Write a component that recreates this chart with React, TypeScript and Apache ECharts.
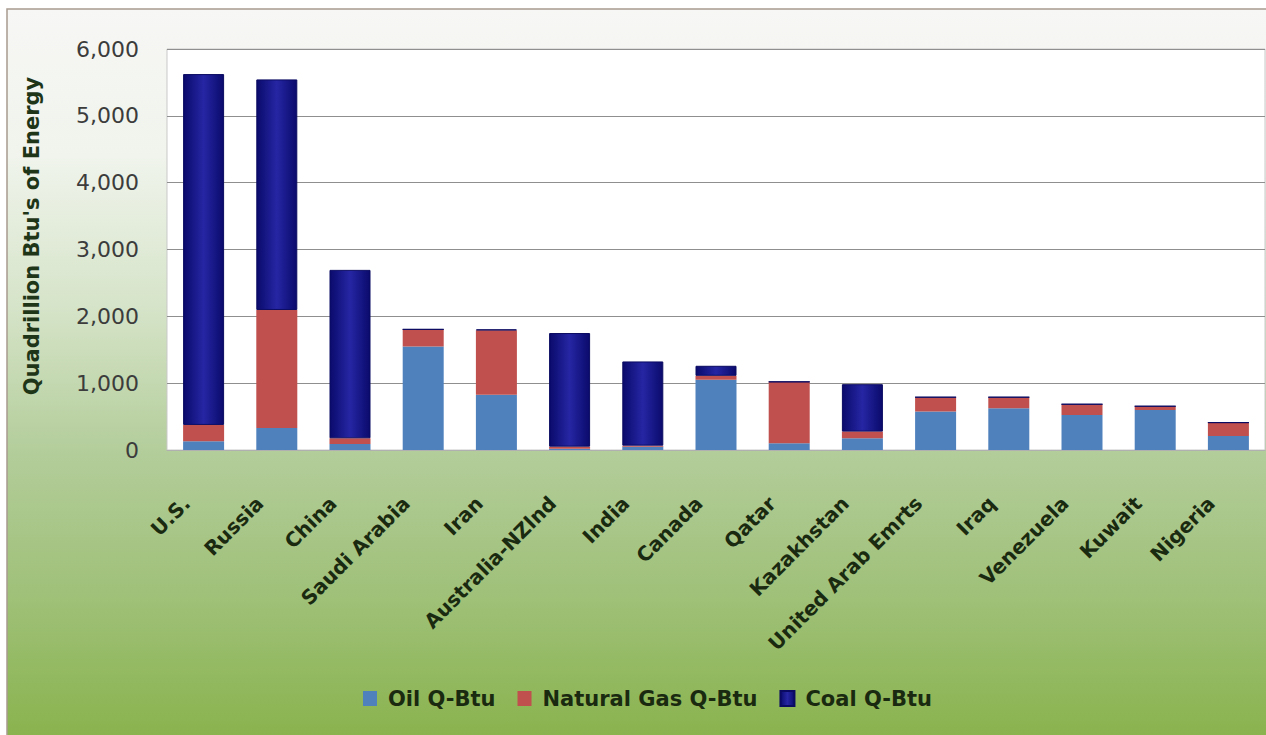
import React, { useEffect, useRef } from "react";
import * as echarts from "echarts";

// Energy reserves by country, stacked by fuel (quadrillion Btu)
const countries = [
  "U.S.",
  "Russia",
  "China",
  "Saudi Arabia",
  "Iran",
  "Australia-NZlnd",
  "India",
  "Canada",
  "Qatar",
  "Kazakhstan",
  "United Arab Emrts",
  "Iraq",
  "Venezuela",
  "Kuwait",
  "Nigeria",
];
const oilQBtu = [130, 330, 90, 1550, 825, 20, 50, 1050, 100, 175, 575, 625, 525, 600, 210];
const gasQBtu = [245, 1765, 85, 255, 965, 30, 15, 60, 920, 100, 215, 165, 160, 55, 200];
const coalQBtu = [5250, 3450, 2520, 0, 15, 1700, 1260, 150, 0, 710, 0, 0, 0, 0, 0];

const yTicks = [0, 1000, 2000, 3000, 4000, 5000, 6000];
const yTitle = "Quadrillion Btu's of Energy";

const FONT = "DejaVu Sans";

export default function App() {
  const ref = useRef<HTMLDivElement>(null);

  useEffect(() => {
    if (!ref.current) return;
    const chart = echarts.init(ref.current, null, { renderer: "svg" });

    const coalFill = new echarts.graphic.LinearGradient(1, 0, 0, 0, [
      { offset: 0, color: "#0a0a6c" },
      { offset: 0.5, color: "#2626a4" },
      { offset: 1, color: "#0a0a6c" },
    ]);

    const backdrop = new echarts.graphic.LinearGradient(0, 0, 0, 1, [
      { offset: 0, color: "#f7f7f5" },
      { offset: 0.2, color: "#f0f4ec" },
      { offset: 0.4, color: "#d6e4c9" },
      { offset: 0.6, color: "#b3cd9a" },
      { offset: 0.8, color: "#9ec077" },
      { offset: 1, color: "#88b24a" },
    ]);

    chart.setOption({
      animation: false,
      backgroundColor: "#ffffff",
      graphic: [
        {
          type: "rect",
          z: -10,
          silent: true,
          shape: { x: 7, y: 9, width: 1270, height: 740 },
          style: { fill: backdrop, stroke: "#a89b8e", lineWidth: 1.5 },
        },
        {
          type: "text",
          x: 32,
          y: 236,
          rotation: Math.PI / 2,
          silent: true,
          style: {
            text: yTitle,
            fill: "#1e3518",
            font: `bold 21px "${FONT}"`,
            textAlign: "center",
            textVerticalAlign: "middle",
          },
        },
      ],
      legend: {
        left: 358,
        top: 683,
        itemWidth: 14,
        itemHeight: 15,
        itemGap: 22,
        icon: "rect",
        textStyle: {
          fontFamily: FONT,
          fontWeight: "bold",
          fontSize: 21,
          color: "#1a2a10",
          padding: [0, 0, 0, 6],
        },
        data: ["Oil Q-Btu", "Natural Gas Q-Btu", "Coal Q-Btu"],
      },
      grid: {
        left: 167,
        top: 49,
        width: 1098,
        height: 401,
        show: true,
        backgroundColor: "#ffffff",
        borderColor: "#c9c9c9",
        borderWidth: 1,
      },
      xAxis: {
        type: "category",
        data: countries,
        axisTick: { show: false },
        axisLine: { show: true, lineStyle: { color: "#b0b0b0" } },
        axisLabel: {
          interval: 0,
          rotate: 45,
          margin: 33,
          padding: [0, 24, 0, 0],
          fontFamily: FONT,
          fontWeight: "bold",
          fontSize: 20,
          color: "#1a2a10",
        },
      },
      yAxis: {
        type: "value",
        min: yTicks[0],
        max: yTicks[yTicks.length - 1],
        interval: 1000,
        axisLine: { show: false },
        axisTick: { show: false },
        splitLine: { lineStyle: { color: "#8f8f8f", width: 1 } },
        axisLabel: {
          margin: 28,
          fontFamily: FONT,
          fontSize: 22,
          color: "#3c3c3c",
          formatter: (v: number) => v.toLocaleString("en-US"),
        },
      },
      series: [
        {
          name: "Oil Q-Btu",
          type: "bar",
          stack: "energy",
          barWidth: 41,
          data: oilQBtu,
          itemStyle: { color: "#4f81bd" },
        },
        {
          name: "Natural Gas Q-Btu",
          type: "bar",
          stack: "energy",
          barWidth: 41,
          data: gasQBtu,
          itemStyle: { color: "#c0504d" },
        },
        {
          name: "Coal Q-Btu",
          type: "bar",
          stack: "energy",
          barWidth: 41,
          data: coalQBtu,
          itemStyle: { color: coalFill, borderColor: "#0a0a62", borderWidth: 1 },
        },
      ],
    });

    return () => chart.dispose();
  }, []);

  return (
    <div
      ref={ref}
      style={{ position: "absolute", left: 0, top: 0, width: 1266, height: 735 }}
    />
  );
}
